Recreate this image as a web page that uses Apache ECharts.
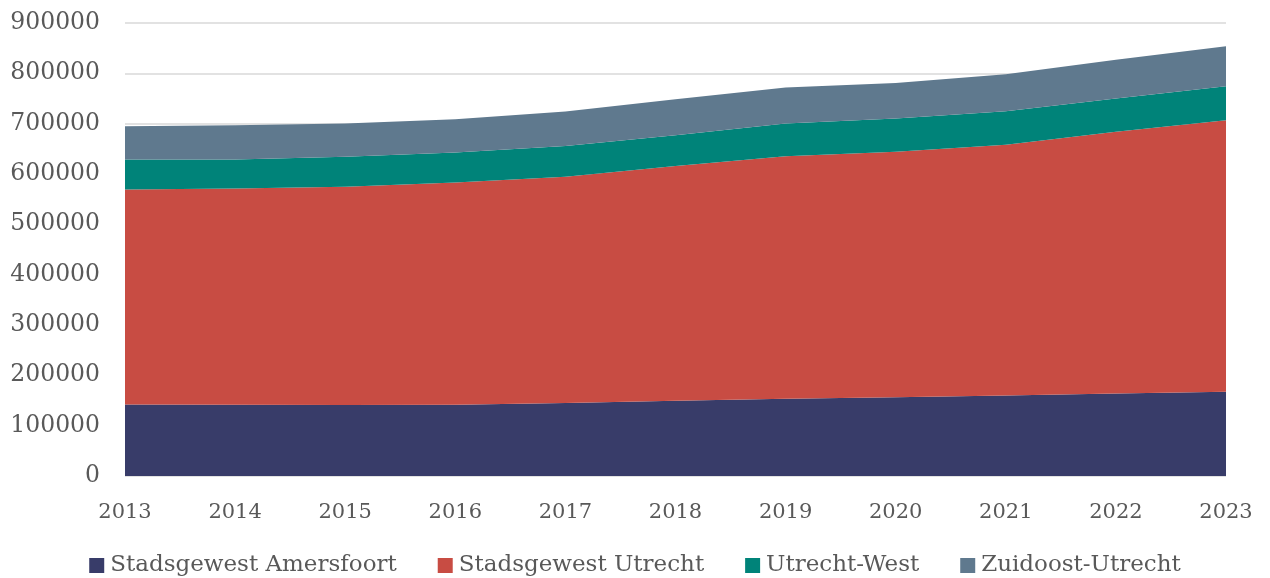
<!DOCTYPE html>
<html>
<head>
  <meta charset="utf-8">
  <title>Stadsgewesten</title>
  <script src="https://cdn.jsdelivr.net/npm/echarts@6/dist/echarts.min.js"></script>
  <style>
    body { margin: 0; padding: 0; background: #fff; }
    #main { width: 1270px; height: 578px; }
  </style>
</head>
<body>
  <div id="main"></div>
  <script type="text/javascript">
    var years = ['2013', '2014', '2015', '2016', '2017', '2018', '2019', '2020', '2021', '2022', '2023'];
    var amersfoort = [142100, 141500, 141100, 141500, 144800, 149400, 153400, 156700, 159900, 163900, 167300];
    var utrecht = [427300, 429500, 433500, 441400, 449600, 466300, 482100, 487300, 498000, 519800, 539600];
    var utrechtWest = [59200, 58000, 59500, 60000, 61000, 61500, 64900, 66300, 66900, 66300, 67500];
    var zuidoost = [66400, 68000, 66300, 66000, 68800, 71400, 71400, 70700, 73400, 77000, 79400];

    var txt = '#595959';
    var font = 'DejaVu Serif';

    function area(name, data, color) {
      return {
        name: name,
        type: 'line',
        stack: 'totaal',
        data: data,
        symbol: 'none',
        color: color,
        lineStyle: { width: 0 },
        areaStyle: { color: color, opacity: 1 }
      };
    }

    var myChart = echarts.init(document.getElementById('main'));
    var option = {
      animation: false,
      grid: { left: 125, right: 44, top: 23, bottom: 102 },
      legend: {
        top: 549,
        left: 'center',
        itemWidth: 15,
        itemHeight: 15,
        itemGap: 41,
        icon: 'rect',
        textStyle: { color: txt, fontFamily: font, fontSize: 23, padding: [0, 0, 0, 1] },
        data: ['Stadsgewest Amersfoort', 'Stadsgewest Utrecht', 'Utrecht-West', 'Zuidoost-Utrecht']
      },
      xAxis: {
        type: 'category',
        boundaryGap: false,
        data: years,
        axisLine: { show: false },
        axisTick: { show: false },
        axisLabel: { color: txt, fontFamily: font, fontSize: 21, margin: 26 }
      },
      yAxis: {
        type: 'value',
        min: 0,
        max: 900000,
        interval: 100000,
        axisLine: { show: false },
        axisTick: { show: false },
        axisLabel: {
          color: txt, fontFamily: font, fontSize: 23.5, margin: 25,
          formatter: function (v) { return String(v); }
        },
        splitLine: { lineStyle: { color: '#d9d9d9', width: 1.5 } }
      },
      series: [
        area('Stadsgewest Amersfoort', amersfoort, '#383c69'),
        area('Stadsgewest Utrecht', utrecht, '#c84c43'),
        area('Utrecht-West', utrechtWest, '#008379'),
        area('Zuidoost-Utrecht', zuidoost, '#5f798e')
      ]
    };
    myChart.setOption(option);
  </script>
</body>
</html>
